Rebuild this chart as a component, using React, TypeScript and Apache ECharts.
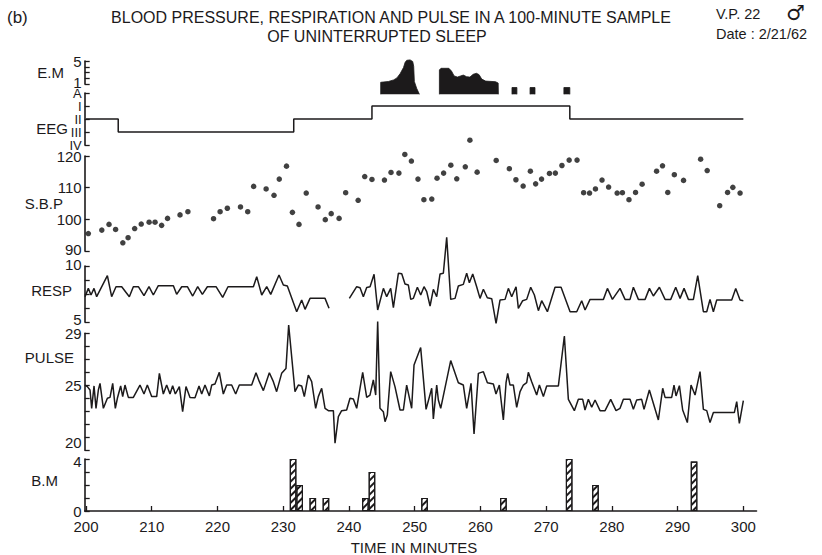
import React, { useEffect, useRef } from 'react';
import * as echarts from 'echarts';

const INK = '#1c1a1b';
const FONT = '"Liberation Sans", Arial, Helvetica, sans-serif';

// ---- x axis ----
const X_MIN = 199.8;
const X_MAX = 302;
const xTicks = [200, 210, 220, 230, 240, 250, 260, 270, 280, 290, 300];

// ---- E.M (eye movements) silhouettes: [minute, intensity] ----
const emShape1: [number, number][] = [
  [244.83, 0], [244.83, 3.0], [246.0, 3.2], [246.8, 3.6], [247.3, 4.1], [247.8, 5.2],
  [248.3, 6.7], [248.55, 8.0], [248.8, 8.5], [249.3, 8.6], [249.7, 8.2], [249.85, 7.0],
  [249.95, 3.2], [250.3, 1.5], [250.72, 0],
];
const emShape2: [number, number][] = [
  [253.76, 0], [253.76, 6.1], [254.0, 6.5], [255.2, 6.5], [255.6, 5.8], [256.0, 4.6],
  [256.5, 4.3], [257.0, 4.6], [257.4, 4.8], [257.9, 4.4], [258.4, 4.3], [258.9, 5.0],
  [259.4, 5.25], [259.8, 4.9], [260.2, 3.8], [260.8, 3.3], [262.3, 3.15], [262.7, 2.8],
  [262.73, 0],
];
const emBlocksStart = [264.8, 267.55, 272.7];
const emBlocksEnd = [265.55, 268.3, 273.6];
const emBlockHeight = 1.7;

// ---- EEG stages (0=A, 1=I, 2=II, 3=III, 4=IV) ----
const eegStageLabels = ['A', 'I', 'II', 'III', 'IV'];
const eegChangeTimes = [200, 204.9, 231.6, 243.5, 273.6, 300];
const eegStages = [2, 3, 2, 1, 2];

// ---- S.B.P dots: [minute, mmHg] ----
const sbp: [number, number][] = [
  [200.35, 95.5], [202.4, 96.6], [203.5, 98.4], [204.5, 96.8], [205.6, 92.6], [206.4, 94.2],
  [207.4, 97.1], [208.4, 98.5], [209.6, 99.1], [210.5, 99.1], [211.5, 98.1], [212.4, 100.3],
  [214.3, 101.4], [215.5, 102.4], [219.4, 100.2], [220.4, 102.4], [221.5, 103.5], [223.5, 103.9],
  [224.6, 102.4], [225.5, 110.4], [227.4, 109.6], [228.6, 107.6], [229.4, 112.7], [230.5, 116.8],
  [231.4, 102.2], [232.4, 98.4], [233.5, 108.3], [235.3, 103.9], [236.4, 99.9], [237.3, 101.8],
  [238.5, 100.3], [239.5, 108.4], [241.4, 106], [242.4, 113.5], [243.5, 112.6], [245.4, 112.4],
  [246.4, 114.8], [247.6, 114.6], [248.5, 120.5], [249.5, 118.4], [250.5, 112.7], [251.4, 106.2],
  [252.6, 106.4], [253.4, 113], [254.4, 114.6], [255.5, 117.1], [256.4, 112.8], [257.7, 116.6],
  [258.4, 125], [259.5, 114.9], [262.4, 118.6], [264.4, 116], [265.4, 112.5], [266.5, 110.5],
  [267.6, 115.2], [268.4, 111.2], [269.3, 112.7], [270.5, 114.5], [271.4, 114.6], [272.4, 117],
  [273.5, 118.7], [274.7, 118.7], [275.7, 108.4], [276.6, 108.3], [277.5, 109.6], [278.5, 112.4],
  [279.5, 110.2], [280.8, 108.3], [281.6, 108.4], [282.6, 106.2], [283.6, 108.5], [284.6, 111.1],
  [286.8, 115.2], [287.7, 116.9], [288.5, 108.5], [289.5, 114.1], [290.9, 112.3], [293.5, 119],
  [294.5, 115.4], [296.4, 104.3], [297.6, 108.5], [298.4, 110.1], [299.5, 108.3],
];

// ---- RESP (two segments, gap in the record) ----
const respA: [number, number][] = [
  [199.85, 7.26], [200.35, 8.0], [200.76, 7.41], [201.22, 8.0], [201.62, 7.26], [203.25, 9.14],
  [203.9, 7.26], [204.56, 8.15], [205.43, 8.15], [206.59, 7.26], [207.2, 8.15], [207.96, 8.15],
  [208.82, 7.35], [209.58, 8.15], [210.24, 7.41], [211.0, 8.24], [213.29, 8.24], [213.79, 7.47],
  [214.56, 8.15], [215.42, 8.15], [216.23, 7.32], [216.99, 8.15], [217.7, 7.47], [218.46, 8.15],
  [219.78, 8.15], [220.79, 7.2], [221.6, 8.15], [225.46, 8.15], [225.97, 9.05], [226.73, 7.41],
  [227.49, 8.15], [228.1, 7.47], [229.36, 9.2], [230.02, 8.3], [230.63, 8.21], [232.05, 5.92],
  [232.81, 6.96], [233.32, 6.13], [234.08, 7.11], [236.36, 7.11], [236.97, 6.22],
];
const respB: [number, number][] = [
  [240.06, 7.11], [241.18, 8.15], [241.69, 8.06], [242.19, 7.26], [242.7, 8.09], [243.21, 8.15],
  [243.82, 9.26], [244.37, 6.07], [245.24, 8.0], [245.74, 7.26], [246.35, 8.0], [246.76, 6.28],
  [247.52, 9.35], [248.03, 9.3], [248.53, 8.4], [249.04, 8.3], [249.4, 7.02], [249.8, 7.11],
  [250.41, 8.1], [250.92, 7.41], [251.42, 8.15], [251.83, 7.71], [252.34, 6.43], [252.84, 7.92],
  [253.35, 7.26], [253.86, 9.29], [254.36, 9.35], [254.87, 12.56], [255.48, 7.02], [256.14, 7.11],
  [256.64, 8.21], [257.4, 8.36], [257.91, 9.35], [258.32, 8.51], [258.83, 9.29], [259.43, 8.15],
  [259.94, 7.11], [260.45, 7.92], [261.05, 7.17], [261.72, 7.08], [262.38, 4.88], [262.98, 6.96],
  [263.75, 7.02], [264.25, 8.0], [264.76, 7.26], [265.42, 8.15], [265.77, 6.22], [266.43, 6.9],
  [267.04, 7.02], [267.65, 8.1], [268.21, 7.41], [268.82, 6.01], [269.32, 6.9], [270.19, 5.92],
  [271.35, 8.1], [272.27, 8.1], [273.64, 5.92], [274.65, 5.92], [275.41, 6.9], [275.92, 6.07],
  [276.68, 7.02], [278.71, 7.02], [279.32, 8.0], [280.08, 7.02], [281.24, 8.0], [282.0, 7.02],
  [282.76, 7.02], [283.27, 8.1], [284.03, 7.02], [285.05, 7.02], [285.71, 8.0], [286.31, 7.32],
  [287.23, 8.1], [288.09, 7.02], [288.95, 7.02], [289.71, 8.1], [290.37, 7.11], [290.98, 8.0],
  [291.64, 7.02], [292.4, 7.02], [293.06, 9.14], [293.92, 5.92], [294.43, 5.92], [294.93, 7.02],
  [295.44, 5.92], [295.95, 6.96], [298.23, 6.96], [298.84, 8.0], [299.5, 6.96], [300.0, 6.9],
];

// ---- PULSE ----
const pulse: [number, number][] = [
  [199.85, 25.02], [200.2, 24.9], [200.61, 24.64], [200.86, 23.23], [201.22, 24.95], [201.52, 23.23],
  [201.88, 24.64], [202.13, 25.15], [202.64, 23.23], [203.25, 24.0], [203.65, 24.07], [204.06, 25.15],
  [204.46, 23.23], [204.77, 24.0], [205.27, 24.95], [205.58, 24.13], [205.93, 25.02], [206.44, 24.07],
  [207.2, 24.07], [208.21, 25.02], [208.82, 24.33], [209.33, 25.02], [209.99, 24.13], [210.75, 24.13],
  [211.16, 25.92], [211.76, 24.33], [212.27, 25.02], [212.78, 24.33], [213.18, 24.97], [213.59, 24.33],
  [214.2, 24.9], [214.7, 22.97], [215.21, 24.9], [215.82, 24.07], [216.58, 24.05], [217.19, 24.95],
  [217.6, 24.33], [218.1, 25.02], [218.76, 24.18], [219.12, 25.02], [219.62, 25.1], [220.28, 26.0],
  [220.89, 24.33], [221.4, 25.02], [222.16, 25.02], [222.77, 24.33], [223.32, 25.02], [225.2, 25.02],
  [225.86, 25.97], [226.37, 25.28], [226.98, 24.59], [227.89, 25.97], [228.5, 25.28], [229.0, 24.51],
  [229.76, 25.92], [230.42, 26.3], [230.83, 29.64], [231.79, 24.51], [232.3, 25.02], [232.81, 24.95],
  [233.21, 24.13], [233.82, 25.79], [234.33, 25.28], [234.94, 23.23], [235.34, 24.13], [235.85, 24.77],
  [236.36, 23.23], [236.87, 23.05], [237.63, 23.05], [237.88, 20.54], [238.39, 22.59], [238.89, 23.05],
  [239.65, 23.1], [240.16, 24.0], [240.67, 23.95], [241.18, 23.23], [241.68, 24.77], [242.09, 26.0],
  [242.7, 24.07], [243.2, 24.25], [243.71, 25.41], [244.07, 24.25], [244.37, 29.9], [244.72, 23.23],
  [245.23, 22.97], [245.49, 22.2], [245.84, 22.72], [246.35, 26.05], [247.0, 24.9], [247.77, 23.1],
  [248.28, 23.1], [248.78, 25.02], [249.54, 23.23], [249.9, 26.56], [250.91, 27.9], [251.73, 23.15],
  [252.59, 24.77], [252.84, 22.41], [253.35, 25.02], [253.6, 23.87], [253.96, 23.23], [255.48, 26.9],
  [256.64, 25.2], [257.4, 25.02], [257.91, 23.23], [258.57, 25.15], [259.03, 21.25], [259.69, 25.92],
  [260.45, 26.05], [261.06, 25.2], [261.97, 25.1], [262.37, 24.33], [262.88, 25.02], [263.49, 22.33],
  [263.9, 25.2], [264.15, 25.92], [264.5, 25.02], [265.01, 25.02], [265.52, 23.31], [266.03, 24.51],
  [266.53, 25.02], [267.04, 25.2], [267.29, 26.0], [267.8, 25.28], [268.56, 24.25], [268.97, 25.02],
  [269.58, 24.13], [270.08, 24.95], [271.86, 24.95], [272.77, 28.79], [273.38, 23.92], [274.29, 23.05],
  [274.9, 23.92], [275.56, 23.92], [275.91, 23.1], [276.42, 23.92], [276.93, 23.31], [277.44, 23.87],
  [278.2, 23.05], [278.96, 23.05], [279.82, 23.92], [280.63, 23.05], [281.24, 23.23], [281.75, 23.92],
  [282.76, 23.92], [283.27, 23.15], [283.77, 23.87], [284.53, 23.92], [284.89, 23.15], [285.7, 24.64],
  [287.07, 22.33], [287.73, 24.77], [288.09, 24.07], [289.1, 24.07], [289.45, 25.02], [289.76, 24.18],
  [290.27, 24.97], [290.77, 23.1], [291.48, 22.13], [292.04, 25.02], [292.65, 24.25], [293.41, 26.05],
  [293.92, 23.15], [294.43, 23.05], [294.93, 22.13], [295.44, 22.9], [298.63, 22.9], [298.99, 23.74],
  [299.39, 22.07], [300.0, 23.82],
];

// ---- B.M (body movements), one-minute bins ----
const bmMinute = [231, 232, 234, 236, 242, 243, 251, 263, 273, 277, 292];
const bmCount = [4, 2, 1, 1, 1, 3, 1, 1, 4, 2, 3.8];

// ---- layout ----
const GRID_LEFT = 84.7;
const GRID_WIDTH = 671.8;
const panels = [
  { top: 61, height: 23 },     // 0 E.M axis
  { top: 54.3, height: 40 },   // 1 E.M shapes
  { top: 93, height: 52 },     // 2 EEG
  { top: 156, height: 95 },    // 3 SBP
  { top: 266, height: 56 },    // 4 RESP
  { top: 333.3, height: 117 }, // 5 PULSE
  { top: 459, height: 52 },    // 6 B.M
];

const LABEL_SIZE = 15;
const tickFont = { color: INK, fontSize: LABEL_SIZE, fontFamily: FONT };
const richShift: any = {
  up2: { ...tickFont, padding: [0, 0, 4, 0] },
  up3: { ...tickFont, padding: [0, 0, 6, 0] },
  up8: { ...tickFont, padding: [0, 0, 16, 0] },
  dn2: { ...tickFont, padding: [4, 0, 0, 0] },
  n: { ...tickFont },
  e: { color: INK, fontSize: 13, fontFamily: FONT, lineHeight: 11 },
};

function yAxis(gridIndex: number, min: number, max: number, interval: number, fmt: (v: number) => string, extra: any = {}) {
  return {
    gridIndex, type: 'value', min, max, interval,
    axisLine: { show: true, lineStyle: { color: INK, width: 1.6 } },
    axisTick: { show: true, inside: true, length: 5, lineStyle: { color: INK, width: 1.3 } },
    axisLabel: {
      ...tickFont, margin: 3, formatter: fmt, rich: richShift,
      showMinLabel: true, showMaxLabel: true, hideOverlap: false, interval: 0,
    },
    splitLine: { show: false },
    ...extra,
  };
}

function buildOption() {
  const eegLine: [number, number][] = [];
  eegStages.forEach((s, i) => {
    eegLine.push([eegChangeTimes[i], s]);
    eegLine.push([eegChangeTimes[i + 1], s]);
  });
  const blocks = emBlocksStart.map((s, i) => [
    [s, 0], [s, emBlockHeight], [emBlocksEnd[i], emBlockHeight], [emBlocksEnd[i], 0],
  ]);
  const emSeriesData = [emShape1, emShape2, ...blocks];

  const grids = panels.map((p) => ({ left: GRID_LEFT, width: GRID_WIDTH, top: p.top, height: p.height }));
  const xAxes = panels.map((_, i) => {
    const base: any = { gridIndex: i, type: 'value', min: X_MIN, max: X_MAX, show: false, splitLine: { show: false } };
    if (i === panels.length - 1) {
      return {
        ...base,
        show: true,
        axisLine: { show: true, lineStyle: { color: INK, width: 1.6 } },
        axisTick: { show: true, inside: true, length: 5, customValues: xTicks, lineStyle: { color: INK, width: 1.3 } },
        axisLabel: { ...tickFont, margin: 8, customValues: xTicks },
      };
    }
    return base;
  });

  const yAxes = [
    yAxis(0, 1, 5, 1, (v) => (v === 5 ? '{n|5}' : v === 1 ? '{up2|1}' : '')),
    { gridIndex: 1, type: 'value', min: 0, max: 10, show: false, splitLine: { show: false } },
    yAxis(2, 0, 4, 1, (v) => `{e|${eegStageLabels[v] ?? ''}}`, { inverse: true }),
    yAxis(3, 90, 120, 10, (v) => (v === 90 ? '{up2|90}' : `{n|${v}}`)),
    yAxis(4, 5, 10, 1.25, (v) => (v === 10 ? '{up2|10}' : v === 5 ? '{up3|5}' : '')),
    yAxis(5, 20, 29, 1, (v) => (v === 20 ? '{up8|20}' : v === 25 || v === 29 ? `{n|${v}}` : '')),
    yAxis(6, 0, 4, 1, (v) => (v === 4 ? '{dn2|4}' : v === 0 ? '{n|0}' : '')),
  ];

  const lineStyle = { color: INK, width: 1.5 };
  const series: any[] = [];
  emSeriesData.forEach((d) => {
    series.push({
      type: 'line', xAxisIndex: 1, yAxisIndex: 1, data: d, symbol: 'none',
      lineStyle: { color: INK, width: 0.8 }, areaStyle: { color: INK, opacity: 1 }, clip: false,
    });
  });
  series.push({ type: 'line', xAxisIndex: 2, yAxisIndex: 2, data: eegLine, symbol: 'none', lineStyle, clip: false });
  series.push({
    type: 'scatter', xAxisIndex: 3, yAxisIndex: 3, data: sbp, symbolSize: 5.5,
    itemStyle: { color: '#111111' }, clip: false,
  });
  [respA, respB].forEach((d) => {
    series.push({ type: 'line', xAxisIndex: 4, yAxisIndex: 4, data: d, symbol: 'none', lineStyle, clip: false });
  });
  series.push({ type: 'line', xAxisIndex: 5, yAxisIndex: 5, data: pulse, symbol: 'none', lineStyle, clip: false });
  series.push({
    type: 'bar', xAxisIndex: 6, yAxisIndex: 6, barWidth: 6.6,
    data: bmMinute.map((m, i) => [m + 0.5, bmCount[i]]),
    itemStyle: {
      color: '#ffffff', borderColor: INK, borderWidth: 1.1,
      decal: {
        symbol: 'rect', symbolSize: 1, color: INK,
        dashArrayX: [1, 0], dashArrayY: [1.3, 2.4], rotation: -Math.PI / 4,
      },
    },
  });

  const txt = (text: string, x: number, y: number, size: number, align: string = 'left', family: string = FONT, weight: string = 'normal') => ({
    type: 'text', x, y,
    style: {
      text, fill: INK, fontSize: size, fontFamily: family, fontWeight: weight,
      align, verticalAlign: 'middle', textAlign: align, textVerticalAlign: 'middle',
    },
  });

  const graphic = [
    txt('(b)', 7, 17, 17),
    txt('BLOOD PRESSURE, RESPIRATION AND PULSE IN A 100-MINUTE SAMPLE', 391, 17, 16, 'center'),
    txt('OF UNINTERRUPTED SLEEP', 377, 36, 16, 'center'),
    txt('V.P. 22', 716, 14, 14.5),
    txt('\u2642', 786, 13, 21, 'left', '"DejaVu Sans", "Noto Sans", sans-serif', 'bold'),
    txt('Date : 2/21/62', 716, 34, 14.5),
    txt('E.M', 64, 72, LABEL_SIZE, 'right'),
    txt('EEG', 68, 128, LABEL_SIZE, 'right'),
    txt('S.B.P', 63, 203, LABEL_SIZE, 'right'),
    txt('RESP', 72, 290, LABEL_SIZE, 'right'),
    txt('PULSE', 74, 357, LABEL_SIZE, 'right'),
    txt('B.M', 58, 480, LABEL_SIZE, 'right'),
    txt('TIME IN MINUTES', 414, 547, LABEL_SIZE, 'center'),
  ];

  return {
    animation: false,
    backgroundColor: '#ffffff',
    grid: grids,
    xAxis: xAxes,
    yAxis: yAxes,
    series,
    graphic,
  };
}

export default function App() {
  const ref = useRef<HTMLDivElement>(null);
  useEffect(() => {
    if (!ref.current) return;
    const chart = echarts.init(ref.current, null, { renderer: 'svg' });
    chart.setOption(buildOption() as any);
    return () => chart.dispose();
  }, []);
  return (
    <div
      ref={ref}
      style={{ position: 'fixed', left: 0, top: 0, width: 822, height: 555, background: '#fff' }}
    />
  );
}
